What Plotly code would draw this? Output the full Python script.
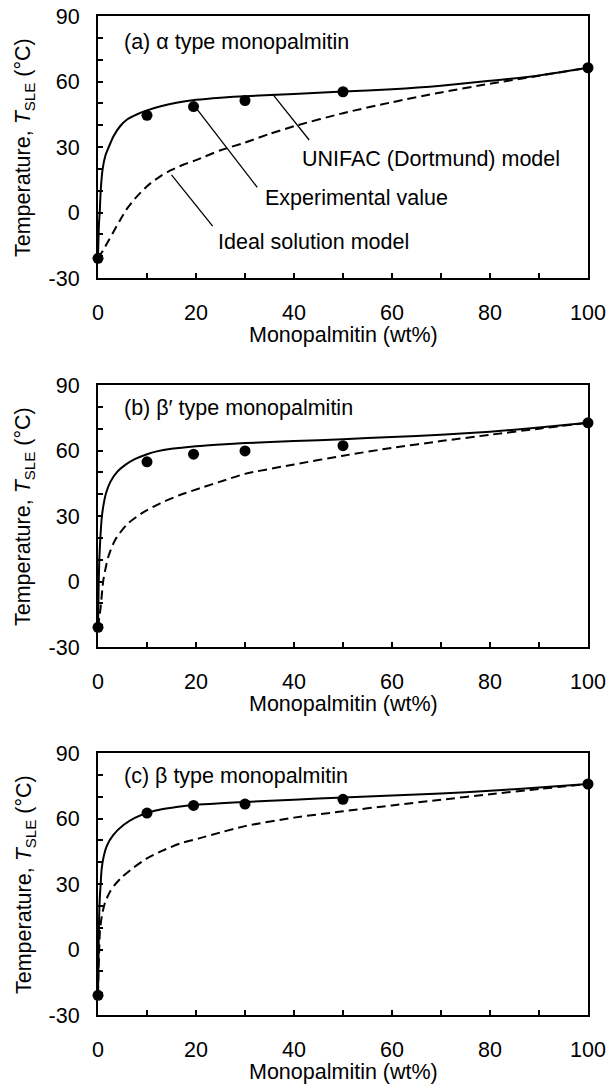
import plotly.graph_objects as go

# ---------------- data ----------------
exp_x = [0, 10, 19.5, 30, 50, 100]
exp_a = [-21, 44.5, 48.5, 51.3, 55.3, 66.3]
exp_b = [-21, 54.8, 58.3, 59.8, 62.2, 72.7]
exp_c = [-21, 62.5, 66.0, 66.6, 68.8, 75.8]

unifac_a_x = [0, 0.2, 0.35, 0.55, 0.95, 1.5, 2.2, 3.2, 4.5, 6, 8, 10, 13, 16, 20, 25, 30, 40, 50, 60, 70, 80, 90, 100]
unifac_a_y = [-21, -5, 0, 10, 20, 26, 30, 35, 39.5, 42.7, 45, 46.8, 48.8, 50.3, 51.6, 52.6, 53.3, 54.3, 55.4, 56.5, 58.1, 60.3, 62.8, 66.3]
ideal_a_x = [0, 1, 2, 3, 4.5, 6, 8, 10.5, 13, 15, 17.5, 20, 25, 30, 35, 40, 50, 60, 70, 80, 90, 100]
ideal_a_y = [-21, -17.5, -13.5, -9.5, -3.5, 2, 7.5, 13, 17, 19.5, 22, 24, 28.5, 32, 36, 39.5, 45.5, 50.5, 55, 59, 62.6, 66.3]

unifac_b_x = [0, 0.15, 0.27, 0.48, 0.8, 1.2, 1.63, 2.5, 3.95, 5.5, 7.5, 10, 12, 15, 20, 25, 30, 40, 50, 60, 70, 80, 90, 100]
unifac_b_y = [-21, 0, 10, 20, 30, 36, 40.4, 45.5, 50.3, 53.3, 56, 58.3, 59.6, 60.8, 62, 62.8, 63.4, 64.3, 65.2, 66.2, 67.2, 68.6, 70.5, 72.7]
ideal_b_x = [0, 0.3, 0.55, 1.1, 2.1, 3.5, 5.8, 8.9, 12.7, 16.7, 20.8, 26, 30, 40, 50, 60, 70, 80, 90, 100]
ideal_b_y = [-21, -16, -11.5, 0.7, 11.3, 19, 25.9, 31.2, 35.8, 39.6, 42.7, 46.5, 49.3, 53.6, 57.6, 61.2, 64.3, 67.2, 70, 72.7]

unifac_c_x = [0, 0.1, 0.2, 0.35, 0.55, 0.75, 1.2, 1.8, 3.1, 5.2, 7.5, 10, 13, 16, 20, 25, 30, 40, 50, 60, 70, 80, 90, 100]
unifac_c_y = [-21, -5, 12, 23, 30.3, 37, 43, 47.5, 52.4, 57, 60.3, 62.5, 64.2, 65.3, 66.3, 67, 67.6, 68.6, 69.6, 70.5, 71.5, 72.7, 74.2, 75.8]
ideal_c_x = [0, 0.1, 0.25, 0.41, 0.8, 1.43, 2.45, 3.5, 4.8, 7.2, 9.9, 13.3, 16.7, 20.8, 25, 30, 40, 50, 60, 70, 80, 90, 100]
ideal_c_y = [-21, -10, 0, 8.9, 15.5, 21.5, 26.5, 29.8, 33, 37.4, 41.6, 45.4, 48.5, 51, 53.6, 56.5, 60.4, 63.3, 66, 68.6, 71.1, 73.5, 75.8]

panel_labels = ["(a) α type monopalmitin", "(b) β′ type monopalmitin", "(c) β type monopalmitin"]
x_ticks = [0, 20, 40, 60, 80, 100]
y_ticks = [-30, 0, 30, 60, 90]
y_ticktext = ["-30", "0", "30", "60", "90"]
x_title = "Monopalmitin (wt%)"
y_title = "Temperature, <i>T</i><sub>SLE</sub> (°C)"

callout_texts = ["UNIFAC (Dortmund) model", "Experimental value", "Ideal solution model"]
callout_text_xy = [(41.2, 24.7), (33.7, 6.6), (24.1, -13.3)]
callout_lines = [((35.8, 53.8), (43.1, 33.2)), ((19.8, 48.5), (32.5, 11.5)), ((15.0, 17.2), (23.4, -6.2))]

# ---------------- layout geometry ----------------
W, H = 609, 1088
FONT = "Liberation Sans, Arial, sans-serif"
FS = 21.5
x_dom = [98 / W, 588 / W]
panel_px = [(16, 278), (385, 647), (753, 1015)]
label_y = [78.1, 79.6, 79.6]

panels = [
    (exp_a, unifac_a_x, unifac_a_y, ideal_a_x, ideal_a_y),
    (exp_b, unifac_b_x, unifac_b_y, ideal_b_x, ideal_b_y),
    (exp_c, unifac_c_x, unifac_c_y, ideal_c_x, ideal_c_y),
]

fig = go.Figure()
layout = dict(
    width=W, height=H,
    margin=dict(l=0, r=0, t=0, b=0),
    paper_bgcolor="white", plot_bgcolor="white",
    showlegend=False,
    font=dict(family=FONT, size=FS, color="black"),
)
annotations = []
shapes = []

for i, (ey, ux, uy, ix, iy) in enumerate(panels):
    n = i + 1
    xa = "x" if n == 1 else f"x{n}"
    ya = "y" if n == 1 else f"y{n}"
    top, bot = panel_px[i]
    fig.add_trace(go.Scatter(x=ix, y=iy, xaxis=xa, yaxis=ya, mode="lines",
                             line=dict(color="black", width=2, dash="9px,5px",
                                       shape="spline", smoothing=0.7), cliponaxis=False))
    fig.add_trace(go.Scatter(x=ux, y=uy, xaxis=xa, yaxis=ya, mode="lines",
                             line=dict(color="black", width=2, shape="spline", smoothing=0.7),
                             cliponaxis=False))
    fig.add_trace(go.Scatter(x=exp_x, y=ey, xaxis=xa, yaxis=ya, mode="markers",
                             marker=dict(color="black", size=11), cliponaxis=False))
    axcommon = dict(showline=True, linecolor="black", linewidth=2, mirror=True,
                    showgrid=False, zeroline=False, ticks="inside", ticklen=5,
                    tickwidth=1.5, tickcolor="black", automargin=False,
                    tickfont=dict(family=FONT, size=FS, color="black"))
    layout["xaxis" if n == 1 else f"xaxis{n}"] = dict(
        axcommon, domain=x_dom, range=[0, 100], anchor=ya,
        tickmode="array", tickvals=x_ticks, ticktext=[str(v) for v in x_ticks],
        ticklabelstandoff=14,
        minor=dict(tickmode="linear", tick0=0, dtick=10, ticks="inside", ticklen=5,
                   tickwidth=1.5, tickcolor="black"))
    layout["yaxis" if n == 1 else f"yaxis{n}"] = dict(
        axcommon, domain=[1 - bot / H, 1 - top / H], range=[-30, 90], anchor=xa,
        tickmode="array", tickvals=y_ticks, ticktext=y_ticktext,
        ticklabelstandoff=12,
        minor=dict(tickmode="linear", tick0=0, dtick=10, ticks="inside", ticklen=5,
                   tickwidth=1.5, tickcolor="black"))
    annotations.append(dict(x=4.8, y=label_y[i], xref=xa, yref=ya, text=panel_labels[i],
                            showarrow=False, xanchor="left", yanchor="middle",
                            font=dict(family=FONT, size=FS)))
    annotations.append(dict(x=343 / W, y=1 - (bot + 57) / H, xref="paper", yref="paper",
                            text=x_title, showarrow=False, xanchor="center", yanchor="middle",
                            font=dict(family=FONT, size=FS)))
    annotations.append(dict(x=25 / W, y=1 - ((top + bot) / 2 + 1) / H, xref="paper", yref="paper",
                            text=y_title, showarrow=False, textangle=-90,
                            xanchor="center", yanchor="middle",
                            font=dict(family=FONT, size=FS)))

for txt, (tx, ty), ((x0, y0), (x1, y1)) in zip(callout_texts, callout_text_xy, callout_lines):
    annotations.append(dict(x=tx, y=ty, xref="x", yref="y", text=txt, showarrow=False,
                            xanchor="left", yanchor="middle", font=dict(family=FONT, size=FS)))
    shapes.append(dict(type="line", xref="x", yref="y", x0=x0, y0=y0, x1=x1, y1=y1,
                       line=dict(color="black", width=1.3)))

layout["annotations"] = annotations
layout["shapes"] = shapes
fig.update_layout(**layout)
fig.write_html("out.html", config={"displayModeBar": False},
               post_script="document.body.style.margin='0';document.body.style.overflow='hidden';")
